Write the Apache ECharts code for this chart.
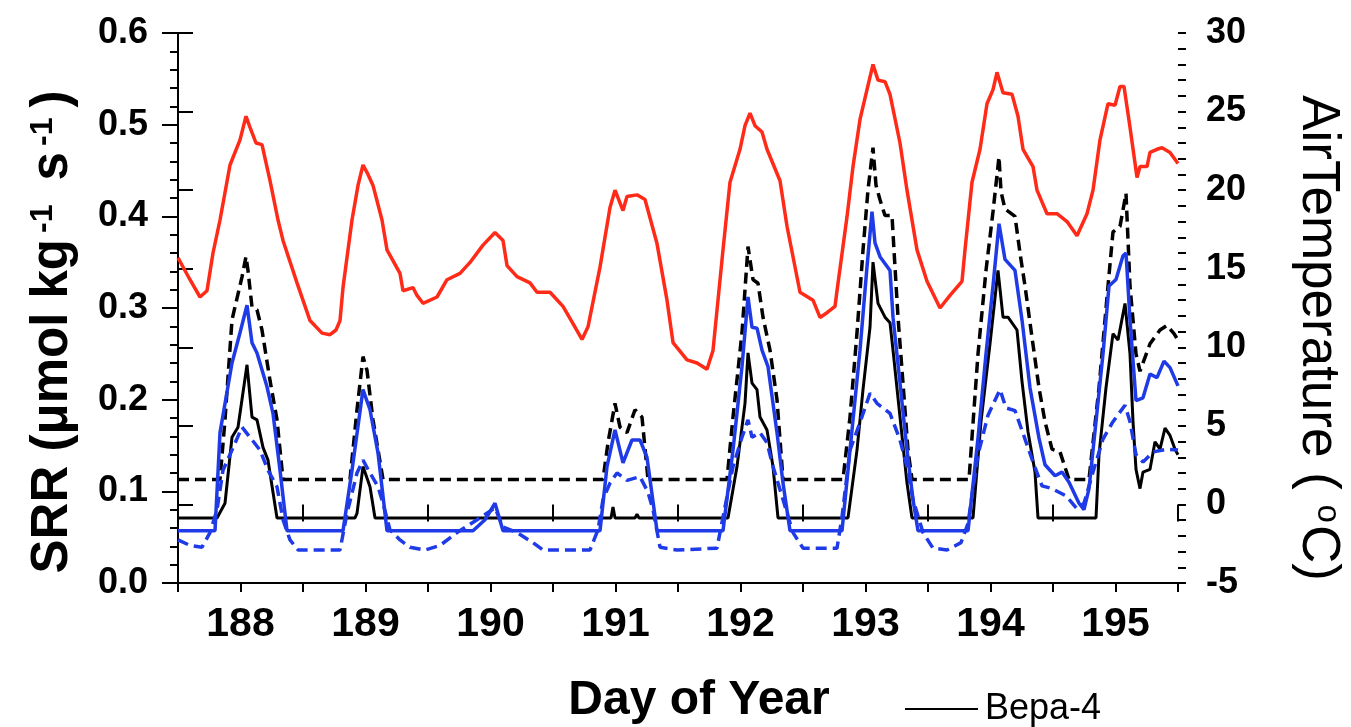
<!DOCTYPE html>
<html>
<head>
<meta charset="utf-8">
<title>SRR and air temperature</title>
<script src="https://cdn.jsdelivr.net/npm/echarts@6/dist/echarts.min.js"></script>
<style>
  html, body { margin: 0; padding: 0; background: #fff; }
  #main { width: 1351px; height: 727px; }
</style>
</head>
<body>
<div id="main"></div>
<script>
// 数据: [day of year, value]
// 气温 (右轴, °C)
const airTemp = [[187.5,15.7],[187.596,14.3],[187.676,13.2],[187.732,13.6],[187.78,16.0],[187.836,18.1],[187.916,21.6],[187.996,23.2],[188.044,24.7],[188.076,24.0],[188.124,23.0],[188.172,22.9],[188.236,20.6],[188.3,18.1],[188.34,16.8],[188.452,14.1],[188.556,11.7],[188.652,10.9],[188.716,10.8],[188.764,11.1],[188.796,11.7],[188.82,13.8],[188.892,18.1],[188.94,20.3],[188.98,21.6],[189.02,21.0],[189.06,20.3],[189.132,18.1],[189.172,16.2],[189.276,14.7],[189.3,13.6],[189.38,13.8],[189.412,13.3],[189.46,12.8],[189.572,13.2],[189.652,14.3],[189.756,14.7],[189.836,15.4],[189.94,16.5],[190.036,17.3],[190.1,16.8],[190.132,15.2],[190.212,14.5],[190.316,14.1],[190.372,13.5],[190.476,13.5],[190.58,12.6],[190.66,11.5],[190.732,10.5],[190.78,11.3],[190.876,15.1],[190.956,18.9],[190.996,20.0],[191.06,18.7],[191.092,19.6],[191.172,19.7],[191.236,19.4],[191.332,16.6],[191.412,13.0],[191.46,10.3],[191.572,9.2],[191.652,9.0],[191.732,8.6],[191.78,9.8],[191.86,16.2],[191.916,20.5],[191.996,22.6],[192.036,24.1],[192.076,24.9],[192.116,24.1],[192.172,23.7],[192.212,22.6],[192.316,20.6],[192.372,17.7],[192.476,13.5],[192.58,13.0],[192.636,11.9],[192.692,12.2],[192.756,12.6],[192.772,13.6],[192.852,18.3],[192.9,21.5],[192.956,24.5],[193.012,26.4],[193.06,28.0],[193.1,27.0],[193.156,26.9],[193.196,26.1],[193.276,23.0],[193.332,20.0],[193.412,16.2],[193.492,14.2],[193.596,12.5],[193.676,13.3],[193.772,14.2],[193.796,16.2],[193.852,20.5],[193.916,22.6],[193.972,25.5],[194.02,26.4],[194.052,27.5],[194.1,26.2],[194.172,26.1],[194.22,24.7],[194.26,22.6],[194.34,21.5],[194.372,20.0],[194.452,18.5],[194.532,18.5],[194.612,18.0],[194.692,17.1],[194.772,18.5],[194.82,20.0],[194.876,23.2],[194.94,25.5],[194.996,25.4],[195.036,26.6],[195.068,26.6],[195.116,24.0],[195.172,20.8],[195.196,21.5],[195.252,21.5],[195.276,22.4],[195.332,22.6],[195.372,22.7],[195.436,22.4],[195.5,21.7]];

// SRR 黑色实线 (Bepa-4)
const srrBlackSolid = [[187.5,0.071],[187.812,0.071],[187.876,0.087],[187.932,0.159],[187.98,0.170],[188.052,0.238],[188.092,0.181],[188.132,0.178],[188.18,0.148],[188.22,0.134],[188.292,0.071],[188.916,0.071],[188.932,0.076],[188.98,0.127],[189.036,0.105],[189.076,0.071],[190.964,0.071],[190.98,0.083],[190.996,0.071],[191.156,0.071],[191.172,0.075],[191.188,0.071],[191.9,0.071],[191.972,0.127],[192.036,0.196],[192.06,0.251],[192.092,0.218],[192.132,0.211],[192.156,0.181],[192.212,0.167],[192.26,0.127],[192.3,0.071],[192.86,0.071],[192.932,0.145],[192.98,0.211],[193.036,0.279],[193.06,0.350],[193.1,0.305],[193.156,0.290],[193.196,0.284],[193.22,0.254],[193.276,0.181],[193.332,0.109],[193.372,0.071],[193.86,0.071],[193.924,0.176],[193.996,0.261],[194.06,0.341],[194.1,0.290],[194.14,0.290],[194.212,0.276],[194.252,0.220],[194.3,0.165],[194.356,0.121],[194.38,0.071],[194.844,0.071],[194.868,0.140],[194.924,0.213],[194.98,0.272],[195.02,0.265],[195.076,0.305],[195.116,0.250],[195.14,0.176],[195.164,0.124],[195.196,0.103],[195.22,0.121],[195.276,0.124],[195.316,0.154],[195.356,0.146],[195.396,0.169],[195.436,0.161],[195.476,0.146],[195.5,0.140]];

// SRR 黑色虚线
const srrBlackDashed = [[187.5,0.113],[187.836,0.113],[187.876,0.178],[187.932,0.287],[188.012,0.334],[188.044,0.356],[188.06,0.341],[188.092,0.301],[188.132,0.298],[188.172,0.276],[188.236,0.221],[188.292,0.178],[188.34,0.113],[188.876,0.113],[188.932,0.189],[188.98,0.247],[189.012,0.232],[189.06,0.178],[189.14,0.113],[190.9,0.113],[190.94,0.153],[190.996,0.196],[191.036,0.170],[191.092,0.164],[191.156,0.189],[191.212,0.181],[191.26,0.113],[191.892,0.113],[191.94,0.181],[192.012,0.273],[192.06,0.367],[192.1,0.331],[192.14,0.327],[192.18,0.290],[192.236,0.254],[192.292,0.200],[192.34,0.113],[192.82,0.113],[192.876,0.181],[192.932,0.273],[192.98,0.363],[193.02,0.429],[193.06,0.475],[193.084,0.434],[193.116,0.418],[193.156,0.401],[193.212,0.401],[193.228,0.363],[193.26,0.290],[193.3,0.218],[193.34,0.145],[193.372,0.113],[193.828,0.113],[193.9,0.250],[193.964,0.341],[194.02,0.405],[194.068,0.465],[194.084,0.427],[194.116,0.408],[194.196,0.400],[194.236,0.360],[194.276,0.324],[194.332,0.268],[194.388,0.213],[194.436,0.176],[194.492,0.146],[194.556,0.143],[194.628,0.113],[194.788,0.113],[194.868,0.213],[194.94,0.324],[194.98,0.383],[195.036,0.389],[195.084,0.425],[195.116,0.324],[195.164,0.250],[195.196,0.231],[195.276,0.261],[195.356,0.276],[195.412,0.281],[195.468,0.272],[195.5,0.265]];

// SRR 蓝色实线
const srrBlueSolid = [[187.5,0.057],[187.796,0.057],[187.836,0.164],[187.932,0.240],[187.996,0.273],[188.052,0.303],[188.092,0.262],[188.132,0.251],[188.212,0.214],[188.26,0.185],[188.316,0.123],[188.372,0.057],[188.82,0.057],[188.892,0.123],[188.98,0.211],[189.036,0.189],[189.1,0.142],[189.172,0.057],[189.86,0.057],[189.956,0.069],[190.036,0.087],[190.1,0.057],[190.876,0.057],[190.932,0.127],[190.996,0.167],[191.06,0.131],[191.132,0.156],[191.196,0.156],[191.252,0.137],[191.332,0.057],[191.86,0.057],[191.94,0.145],[192.012,0.236],[192.06,0.312],[192.092,0.279],[192.132,0.278],[192.172,0.254],[192.22,0.236],[192.292,0.164],[192.34,0.109],[192.396,0.057],[192.812,0.057],[192.876,0.145],[192.956,0.254],[193.012,0.345],[193.052,0.405],[193.076,0.371],[193.116,0.356],[193.196,0.341],[193.22,0.290],[193.276,0.218],[193.332,0.145],[193.38,0.091],[193.42,0.057],[193.82,0.057],[193.9,0.158],[193.964,0.250],[194.02,0.324],[194.068,0.392],[194.116,0.353],[194.196,0.341],[194.252,0.287],[194.316,0.213],[194.388,0.158],[194.436,0.129],[194.516,0.117],[194.572,0.121],[194.628,0.110],[194.708,0.087],[194.748,0.080],[194.788,0.103],[194.844,0.176],[194.9,0.250],[194.948,0.324],[195.004,0.331],[195.06,0.357],[195.084,0.360],[195.116,0.287],[195.164,0.199],[195.22,0.202],[195.276,0.228],[195.332,0.224],[195.388,0.242],[195.436,0.235],[195.5,0.215]];

// SRR 蓝色虚线
const srrBlueDashed = [[187.5,0.047],[187.596,0.041],[187.692,0.039],[187.756,0.055],[187.812,0.080],[187.86,0.123],[187.932,0.145],[188.012,0.170],[188.076,0.159],[188.156,0.145],[188.22,0.123],[188.292,0.105],[188.34,0.069],[188.396,0.047],[188.46,0.036],[188.796,0.036],[188.852,0.076],[188.932,0.120],[188.98,0.134],[189.036,0.120],[189.1,0.105],[189.14,0.087],[189.196,0.058],[189.276,0.047],[189.356,0.039],[189.476,0.036],[189.596,0.041],[189.732,0.055],[189.892,0.069],[190.036,0.082],[190.1,0.061],[190.212,0.055],[190.34,0.044],[190.42,0.036],[190.796,0.036],[190.86,0.058],[190.9,0.091],[190.956,0.109],[191.012,0.120],[191.092,0.112],[191.196,0.116],[191.26,0.099],[191.3,0.080],[191.356,0.039],[191.492,0.036],[191.812,0.038],[191.86,0.072],[191.94,0.127],[192.012,0.159],[192.06,0.178],[192.092,0.159],[192.156,0.164],[192.212,0.153],[192.26,0.127],[192.34,0.091],[192.42,0.055],[192.5,0.038],[192.772,0.038],[192.812,0.072],[192.876,0.145],[192.956,0.175],[193.036,0.207],[193.092,0.196],[193.196,0.185],[193.276,0.156],[193.332,0.127],[193.38,0.091],[193.46,0.055],[193.54,0.038],[193.652,0.036],[193.764,0.044],[193.82,0.065],[193.9,0.140],[193.98,0.183],[194.076,0.211],[194.124,0.191],[194.196,0.188],[194.276,0.157],[194.34,0.132],[194.412,0.106],[194.492,0.103],[194.604,0.095],[194.692,0.081],[194.748,0.087],[194.82,0.121],[194.9,0.157],[194.98,0.176],[195.076,0.194],[195.116,0.176],[195.164,0.140],[195.22,0.132],[195.3,0.143],[195.412,0.146],[195.5,0.145]];

const legendNames = ['Bepa-4'];

const chart = echarts.init(document.getElementById('main'));
const font = 'Liberation Sans, Arial, Helvetica, sans-serif';
const red = '#ff2a17';
const blue = '#1f3be8';
const tickLine = { color: '#000', width: 2 };

// 只画刻度的辅助轴
function tickAxis(pos, min, max, interval, len) {
  return {
    type: 'value', position: pos, min: min, max: max, interval: interval,
    axisLine: { show: false },
    axisTick: { show: true, length: len, lineStyle: tickLine },
    axisLabel: { show: false },
    splitLine: { show: false }
  };
}

const option = {
  animation: false,
  backgroundColor: '#fff',
  // outerBoundsMode none: 不让 v6 自动缩小绘图区
  grid: { left: 178, right: 173, top: 33, bottom: 144, outerBoundsMode: 'none' },
  legend: {
    data: legendNames,
    left: 900,
    top: 686,
    icon: 'rect',
    itemWidth: 73,
    itemHeight: 2,
    itemGap: 8,
    textStyle: { fontFamily: font, fontSize: 36, color: '#000', padding: [0, 0, 0, 2] }
  },
  xAxis: [
    {
      // 数据轴, 半天一个短刻度, 整数日标签
      type: 'value', min: 187.5, max: 195.5, interval: 0.5,
      axisLine: { lineStyle: tickLine },
      axisTick: { length: 9, lineStyle: tickLine },
      axisLabel: {
        margin: 21, color: '#000', fontFamily: font, fontWeight: 'bold', fontSize: 41,
        formatter: v => Number.isInteger(v) ? String(v) : ''
      },
      splitLine: { show: false },
      name: 'Day of Year', nameLocation: 'middle', nameGap: 94,
      nameTextStyle: { fontFamily: font, fontWeight: 'bold', fontSize: 48, color: '#000', padding: [0, 0, 0, 42] }
    },
    // 长刻度在 .5 位置
    tickAxis('bottom', 0, 8, 1, 17),
    {
      // 顶部边框
      type: 'value', min: 0, max: 8, position: 'top',
      axisLine: { lineStyle: tickLine },
      axisTick: { show: false }, axisLabel: { show: false }, splitLine: { show: false }
    }
  ],
  yAxis: [
    {
      type: 'value', min: 0, max: 0.6, interval: 0.1, position: 'left',
      axisLine: { show: true, lineStyle: tickLine },
      axisTick: { length: 16, lineStyle: tickLine },
      axisLabel: {
        margin: 30, color: '#000', fontFamily: font, fontWeight: 'bold', fontSize: 36,
        formatter: v => v.toFixed(1)
      },
      splitLine: { show: false },
      name: 'SRR (μmol kg{sup|-1} s{sup|-1})', nameLocation: 'middle', nameRotate: 90, nameGap: 100,
      nameTextStyle: {
        fontFamily: font, fontWeight: 'bold', fontSize: 51, color: '#000', padding: [0, 48, 0, 0],
        rich: { sup: { fontFamily: font, fontWeight: 'bold', fontSize: 32, verticalAlign: 'top', padding: [0, 10, 0, 6] } }
      }
    },
    {
      type: 'value', min: -5, max: 30, interval: 5, position: 'right',
      axisLine: { show: true, lineStyle: tickLine },
      axisTick: { length: 15, lineStyle: tickLine },
      axisLabel: { margin: 28, color: '#000', fontFamily: font, fontWeight: 'bold', fontSize: 36 },
      splitLine: { show: false },
      name: 'AirTemperature ( {sup|o}C)', nameLocation: 'middle', nameRotate: -90, nameGap: 113,
      nameTextStyle: {
        fontFamily: font, fontSize: 53, color: '#000', padding: [0, 0, 0, 60],
        rich: { sup: { fontFamily: font, fontSize: 33, verticalAlign: 'top', padding: [0, 2, 0, 0] } }
      }
    },
    // 次刻度 (0.02 与 1 °C)
    tickAxis('left', 0, 30, 1, 8),
    tickAxis('right', -5, 30, 1, 8)
  ],
  series: [
    {
      name: 'SRR dashed black', type: 'line', data: srrBlackDashed, symbol: 'none',
      lineStyle: { color: '#000', width: 3.5, type: [11, 6] }, itemStyle: { color: '#000' }
    },
    {
      name: 'Bepa-4', type: 'line', data: srrBlackSolid, symbol: 'none',
      lineStyle: { color: '#000', width: 3 }, itemStyle: { color: '#000' }
    },
    {
      name: 'SRR dashed blue', type: 'line', data: srrBlueDashed, symbol: 'none',
      lineStyle: { color: blue, width: 3.5, type: [11, 6] }, itemStyle: { color: blue }
    },
    {
      name: 'SRR blue', type: 'line', data: srrBlueSolid, symbol: 'none',
      lineStyle: { color: blue, width: 3.5 }, itemStyle: { color: blue }
    },
    {
      name: 'Air temperature', type: 'line', yAxisIndex: 1, data: airTemp, symbol: 'none',
      lineStyle: { color: red, width: 3.5 }, itemStyle: { color: red }
    }
  ]
};

chart.setOption(option);
</script>
</body>
</html>
